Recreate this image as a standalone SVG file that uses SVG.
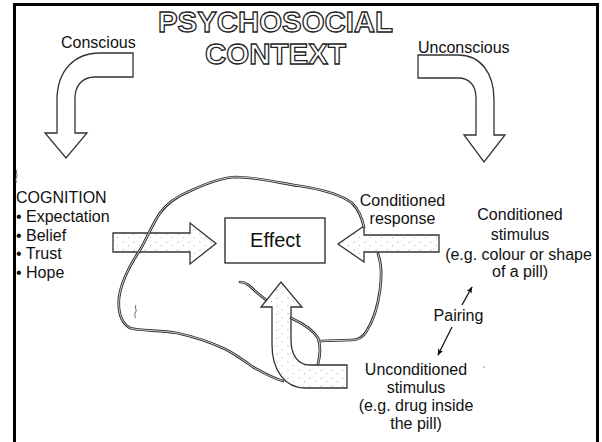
<svg xmlns="http://www.w3.org/2000/svg" width="602" height="442" viewBox="0 0 602 442">
  <style>
    .txt { font-family: "Liberation Sans", Arial, sans-serif; font-size: 16px; fill: #111; }
    .mid { text-anchor: middle; }
    .title { font-family: "Liberation Sans", Arial, sans-serif; font-weight: bold; font-size: 30px; fill: #fff; stroke: #222; stroke-width: 1.3; text-anchor: middle; }
    .bend { fill: #fff; stroke: #333; stroke-width: 1.3; stroke-linejoin: miter; }
    .fat { fill: url(#stipple); stroke: #333; stroke-width: 1.3; stroke-linejoin: miter; }
    .outline { fill: none; stroke: #2a2a2a; stroke-width: 2.7; stroke-linecap: round; stroke-linejoin: round; }
    .outline-gap { fill: none; stroke: #fff; stroke-width: 0.8; stroke-linecap: round; stroke-linejoin: round; }
    .thin { fill: none; stroke: #111; stroke-width: 1.3; }
  </style>
  <defs>
    <pattern id="stipple" width="11" height="8" patternUnits="userSpaceOnUse">
      <rect width="11" height="8" fill="#fff"/>
      <circle cx="2" cy="2" r="0.55" fill="#8a8a8a"/>
      <circle cx="7.5" cy="5.5" r="0.5" fill="#9a9a9a"/>
      <circle cx="5" cy="0.8" r="0.4" fill="#aaa"/>
    </pattern>
    <marker id="head" viewBox="0 0 10 8" refX="9" refY="4" markerWidth="7" markerHeight="6" markerUnits="userSpaceOnUse" orient="auto">
      <path d="M0 0 L10 4 L0 8 L2.5 4 Z" fill="#111"/>
    </marker>
    <!-- hand-drawn outline pieces (only the parts not hidden by the arrows) -->
    <path id="loop-main" d="M 283 381 C 272 378, 262 372, 253 367 C 243 360, 235 354, 225 349 C 210 342, 195 337, 177 333 C 160 330, 140 331, 130 328 C 120 322, 118 310, 119 298 C 121 282, 130 265, 140 250 C 148 236, 152 225, 160 213 C 168 202, 178 196, 190 191 C 205 184, 220 178, 235 177 C 255 177, 280 183, 300 186 C 320 189, 340 194, 352 203 C 359 210, 362 218, 364 227"/>
    <path id="loop-right" d="M 378 254 C 381 262, 382 275, 380 290 C 378 305, 374 320, 366 332 C 362 338, 358 340, 352 340 L 320 341"/>
    <path id="loop-inner-a" d="M 240 282 C 246 282, 250 286, 255 291 L 266 300"/>
    <path id="loop-inner-b" d="M 291 318 C 302 323, 313 330, 318 338 C 321 346, 320 356, 318 364"/>
  </defs>

  <rect width="602" height="442" fill="#fff"/>

  <!-- frame: left, top and right edges -->
  <path d="M 14.5 442 V 4.5 H 597.5 V 442" fill="none" stroke="#000" stroke-width="3"/>

  <g id="title">
    <text class="title" x="275.5" y="32" textLength="235" lengthAdjust="spacingAndGlyphs">PSYCHOSOCIAL</text>
    <text class="title" x="275.5" y="64" textLength="141" lengthAdjust="spacingAndGlyphs">CONTEXT</text>
  </g>

  <g id="conscious">
    <text class="txt" x="61" y="48">Conscious</text>
    <path class="bend" d="M 133 53 L 100 53 C 75 53, 57 70, 57 100 L 57 133 L 45 133 L 66 158 L 87 133 L 75 133 L 75 98 C 75 86, 82 77, 95 77 L 133 77 Z"/>
  </g>

  <g id="unconscious">
    <text class="txt" x="418" y="52.5">Unconscious</text>
    <path class="bend" d="M 418 55 L 458 55 C 480 55, 494 72, 494 100 L 494 135 L 505 135 L 484 162 L 464 135 L 476 135 L 476 98 C 476 86, 470 78, 458 78 L 418 78 Z"/>
  </g>

  <g id="cognition">
    <text class="txt" x="16" y="203">COGNITION</text>
    <text class="txt" x="16" y="221.8">• Expectation</text>
    <text class="txt" x="16" y="240.5">• Belief</text>
    <text class="txt" x="16" y="259.3">• Trust</text>
    <text class="txt" x="16" y="278">• Hope</text>
  </g>

  <g id="effect">
    <rect x="225" y="218" width="100" height="45" fill="#fff" stroke="#222" stroke-width="1.3"/>
    <text class="txt mid" x="275.5" y="247" style="font-size:20px">Effect</text>
  </g>

  <g id="connectors">
    <path id="arrow-cognition" class="fat" d="M 113 233 L 190 233 L 190 223 L 216 243.5 L 190 264 L 190 252 L 113 252 Z"/>
    <path id="arrow-conditioned" class="fat" d="M 439 235 L 364 235 L 364 226 L 338 244 L 364 262 L 364 252 L 439 252 Z"/>
    <path id="arrow-unconditioned" class="fat" d="M 347 365 L 310 365 C 298 365, 291 355, 291 340 L 291 307 L 302 307 L 281 282 L 261 307 L 272 307 L 272 345 C 272 370, 285 388, 305 388 L 347 388 Z"/>
    <line class="thin" x1="462" y1="305" x2="472" y2="287" marker-end="url(#head)"/>
    <line class="thin" x1="452" y1="327" x2="438" y2="355" marker-end="url(#head)"/>
  </g>

  <g id="loop">
    <use href="#loop-main" class="outline"/>
    <use href="#loop-right" class="outline"/>
    <use href="#loop-inner-a" class="outline"/>
    <use href="#loop-inner-b" class="outline"/>
    <use href="#loop-main" class="outline-gap"/>
    <use href="#loop-right" class="outline-gap"/>
    <use href="#loop-inner-a" class="outline-gap"/>
    <use href="#loop-inner-b" class="outline-gap"/>
    <!-- small pen marks -->
    <path d="M 136 305 C 134 308, 138 310, 135 313 C 134 315, 136 316, 135 318" fill="none" stroke="#555" stroke-width="0.9"/>
    <path d="M 17 170 C 15 173, 19 175, 16 178 C 15 180, 17 181, 16 183" fill="none" stroke="#555" stroke-width="0.9"/>
    <circle cx="484" cy="367" r="0.8" fill="#888"/>
  </g>

  <g id="conditioned-response">
    <text class="txt mid" x="402.5" y="206">Conditioned</text>
    <text class="txt mid" x="402.5" y="223.5">response</text>
  </g>

  <g id="conditioned-stimulus">
    <text class="txt mid" x="520" y="220">Conditioned</text>
    <text class="txt mid" x="520" y="240">stimulus</text>
    <text class="txt mid" x="518.5" y="259.5">(e.g. colour or shape</text>
    <text class="txt mid" x="520" y="277">of a pill)</text>
  </g>

  <g id="pairing">
    <text class="txt mid" x="458.5" y="321">Pairing</text>
  </g>

  <g id="unconditioned-stimulus">
    <text class="txt mid" x="416" y="375">Unconditioned</text>
    <text class="txt mid" x="416" y="393">stimulus</text>
    <text class="txt mid" x="416" y="411">(e.g. drug inside</text>
    <text class="txt mid" x="416" y="429">the pill)</text>
  </g>
</svg>
